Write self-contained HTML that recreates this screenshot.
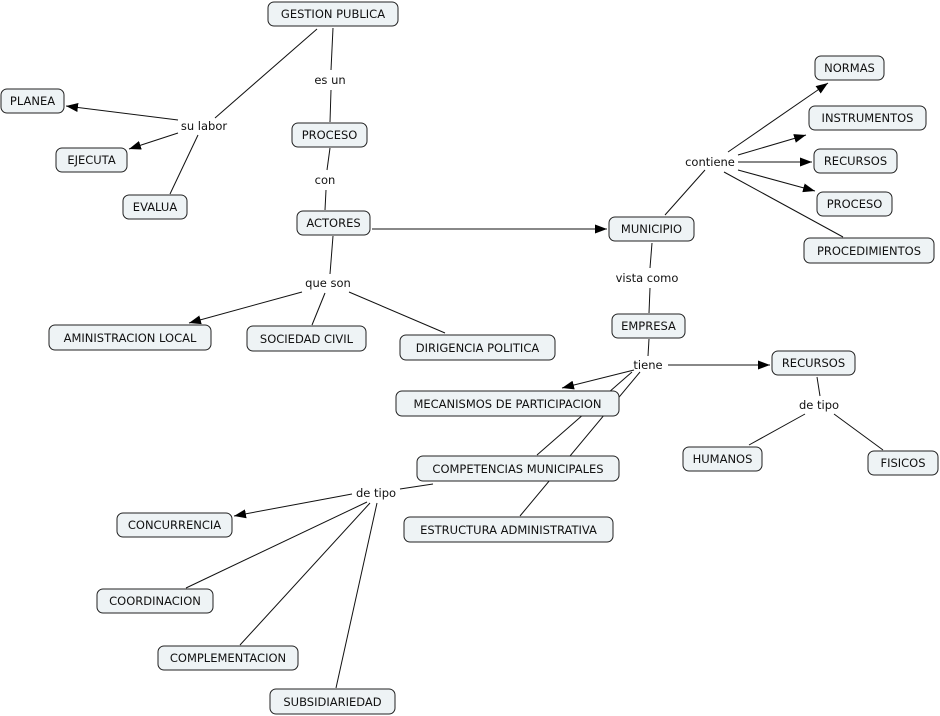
<!DOCTYPE html>
<html><head><meta charset="utf-8"><style>
html,body{margin:0;padding:0;background:#fff}
svg{display:block}
text{font-family:"DejaVu Sans","Liberation Sans",sans-serif;font-size:11.5px;fill:#111}
rect{fill:#eef3f5;stroke:#222;stroke-width:1}
line{stroke:#111;stroke-width:1}
</style></head><body>
<svg width="940" height="716" viewBox="0 0 940 716" xmlns="http://www.w3.org/2000/svg">
<defs><marker id="a" markerWidth="12" markerHeight="9" refX="12" refY="4.5" orient="auto" markerUnits="userSpaceOnUse"><path d="M0,0 L12,4.5 L0,9 z" fill="#000"/></marker></defs>
<g>
<line x1="333" y1="28" x2="331" y2="70"/><line x1="331" y1="90" x2="330" y2="122"/>
<line x1="317" y1="29" x2="215" y2="118"/>
<line x1="178" y1="120" x2="66" y2="106" marker-end="url(#a)"/>
<line x1="178" y1="133" x2="129" y2="149" marker-end="url(#a)"/>
<line x1="198" y1="135" x2="170" y2="194"/>
<line x1="330" y1="148" x2="327" y2="170"/><line x1="326" y1="190" x2="325" y2="210"/>
<line x1="372" y1="229" x2="607" y2="229" marker-end="url(#a)"/>
<line x1="333" y1="236" x2="330" y2="274"/>
<line x1="302" y1="292" x2="189" y2="323" marker-end="url(#a)"/>
<line x1="325" y1="293" x2="312" y2="325"/>
<line x1="349" y1="292" x2="445" y2="333"/>
<line x1="665" y1="215" x2="705" y2="170"/>
<line x1="728" y1="152" x2="828" y2="83" marker-end="url(#a)"/>
<line x1="738" y1="155" x2="806" y2="135" marker-end="url(#a)"/>
<line x1="738" y1="162" x2="812" y2="162" marker-end="url(#a)"/>
<line x1="738" y1="170" x2="815" y2="191" marker-end="url(#a)"/>
<line x1="724" y1="172" x2="843" y2="237"/>
<line x1="652" y1="243" x2="650" y2="268"/><line x1="650" y1="288" x2="649" y2="313"/>
<line x1="649" y1="339" x2="648" y2="356"/>
<line x1="634" y1="370" x2="562" y2="388" marker-end="url(#a)"/>
<line x1="668" y1="365" x2="770" y2="365" marker-end="url(#a)"/>
<line x1="632" y1="372" x2="537" y2="455"/>
<line x1="640" y1="372" x2="520" y2="516"/>
<line x1="817" y1="377" x2="820" y2="396"/>
<line x1="805" y1="414" x2="749" y2="445"/>
<line x1="834" y1="414" x2="883" y2="450"/>
<line x1="433" y1="484" x2="400" y2="489"/>
<line x1="352" y1="494" x2="234" y2="516" marker-end="url(#a)"/>
<line x1="367" y1="502" x2="186" y2="588"/>
<line x1="370" y1="503" x2="240" y2="645"/>
<line x1="377" y1="503" x2="336" y2="688"/>
</g>
<g text-anchor="middle">
<text x="330" y="84">es un</text>
<text x="204" y="130">su labor</text>
<text x="325" y="184">con</text>
<text x="328" y="287">que son</text>
<text x="710" y="166">contiene</text>
<text x="647" y="282">vista como</text>
<text x="648" y="369">tiene</text>
<text x="819" y="409">de tipo</text>
<text x="376" y="497">de tipo</text>
</g>
<g text-anchor="middle">
<rect x="268" y="2" width="130" height="24" rx="6"/><text x="333" y="18">GESTION PUBLICA</text>
<rect x="1" y="89" width="63" height="24" rx="6"/><text x="32.5" y="105">PLANEA</text>
<rect x="56" y="148" width="71" height="24" rx="6"/><text x="91.5" y="164">EJECUTA</text>
<rect x="123" y="195" width="64" height="24" rx="6"/><text x="155" y="211">EVALUA</text>
<rect x="292" y="123" width="75" height="24" rx="6"/><text x="329.5" y="139">PROCESO</text>
<rect x="297" y="211" width="73" height="24" rx="6"/><text x="333.5" y="227">ACTORES</text>
<rect x="609" y="217" width="85" height="24" rx="6"/><text x="651.5" y="233">MUNICIPIO</text>
<rect x="815" y="56" width="69" height="24" rx="6"/><text x="849.5" y="72">NORMAS</text>
<rect x="809" y="106" width="117" height="24" rx="6"/><text x="867.5" y="122">INSTRUMENTOS</text>
<rect x="814" y="149" width="83" height="24" rx="6"/><text x="855.5" y="165">RECURSOS</text>
<rect x="817" y="192" width="75" height="24" rx="6"/><text x="854.5" y="208">PROCESO</text>
<rect x="804" y="238" width="130" height="25" rx="6"/><text x="869" y="255">PROCEDIMIENTOS</text>
<rect x="612" y="314" width="73" height="24" rx="6"/><text x="648.5" y="330">EMPRESA</text>
<rect x="772" y="351" width="83" height="24" rx="6"/><text x="813.5" y="367">RECURSOS</text>
<rect x="683" y="447" width="79" height="24" rx="6"/><text x="722.5" y="463">HUMANOS</text>
<rect x="868" y="451" width="70" height="24" rx="6"/><text x="903" y="467">FISICOS</text>
<rect x="49" y="325" width="162" height="25" rx="6"/><text x="130" y="342">AMINISTRACION LOCAL</text>
<rect x="247" y="326" width="119" height="25" rx="6"/><text x="306.5" y="343">SOCIEDAD CIVIL</text>
<rect x="400" y="335" width="155" height="25" rx="6"/><text x="477.5" y="352">DIRIGENCIA POLITICA</text>
<rect x="396" y="391" width="223" height="25" rx="6"/><text x="507.5" y="408">MECANISMOS DE PARTICIPACION</text>
<rect x="417" y="456" width="202" height="25" rx="6"/><text x="518" y="473">COMPETENCIAS MUNICIPALES</text>
<rect x="404" y="517" width="209" height="25" rx="6"/><text x="508.5" y="534">ESTRUCTURA ADMINISTRATIVA</text>
<rect x="117" y="513" width="115" height="24" rx="6"/><text x="174.5" y="529">CONCURRENCIA</text>
<rect x="97" y="589" width="116" height="24" rx="6"/><text x="155" y="605">COORDINACION</text>
<rect x="158" y="646" width="140" height="24" rx="6"/><text x="228" y="662">COMPLEMENTACION</text>
<rect x="270" y="689" width="125" height="25" rx="6"/><text x="332.5" y="706">SUBSIDIARIEDAD</text>
</g>
</svg>
</body></html>
